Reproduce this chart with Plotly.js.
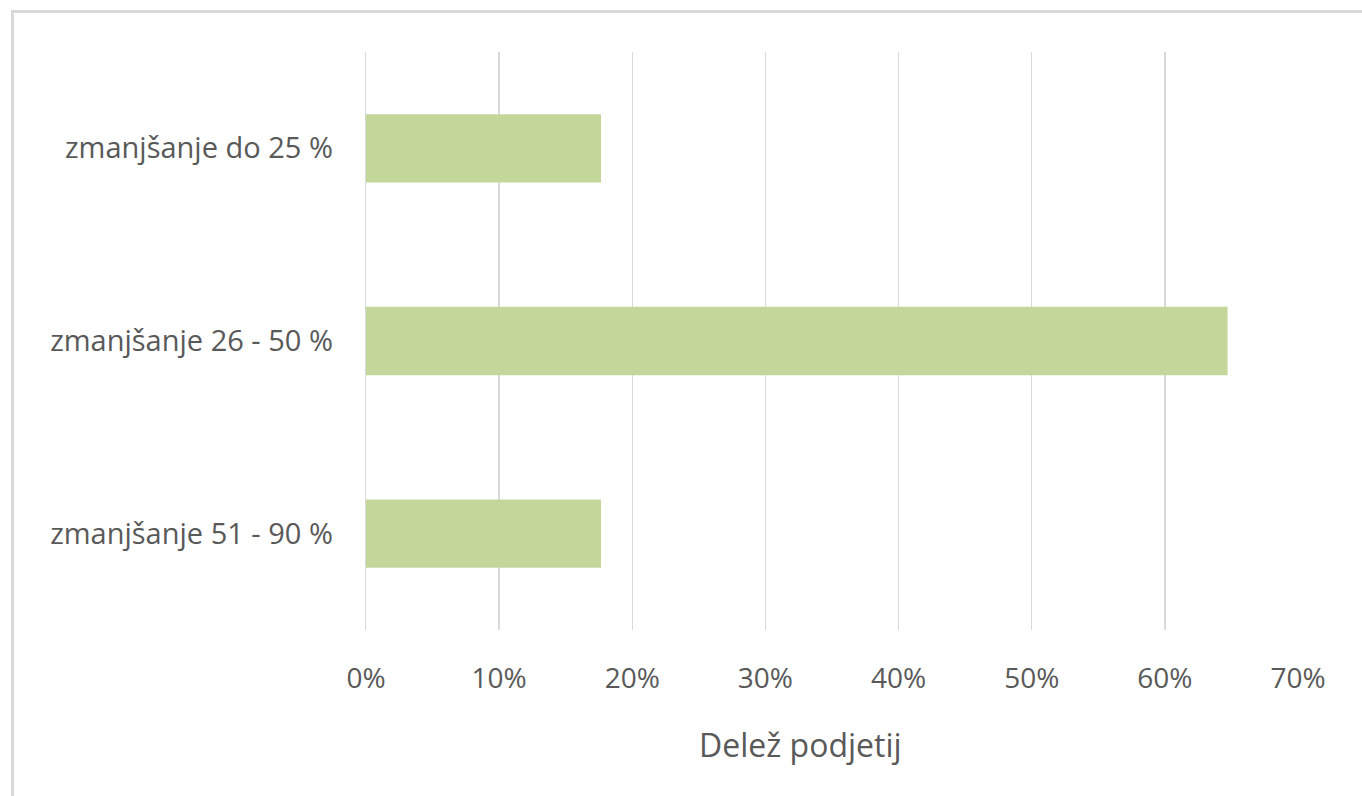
<!DOCTYPE html>
<html>
<head>
<meta charset="utf-8">
<script src="https://cdn.plot.ly/plotly-3.0.1.min.js"></script>
<style>
  html, body { margin: 0; padding: 0; background: #fff; }
  #wrap { position: relative; width: 1362px; height: 796px; }
  #chart { width: 1362px; height: 796px; }
  #frame { position: absolute; left: 11px; top: 10px; right: -5px; bottom: -5px;
           border-top: 3px solid #d9d9d9; border-left: 3px solid #d9d9d9; pointer-events: none; }
</style>
</head>
<body>
<div id="wrap">
  <div id="chart"></div>
  <div id="frame"></div>
</div>
<script>
const categories = ["zmanjšanje do 25 %", "zmanjšanje 26 - 50 %", "zmanjšanje 51 - 90 %"];
const shares = [0.1765, 0.6471, 0.1765];
const tickValues = [0, 0.1, 0.2, 0.3, 0.4, 0.5, 0.6, 0.7];
const tickLabels = ["0%", "10%", "20%", "30%", "40%", "50%", "60%", "70%"];
const axisTitle = "Delež podjetij";

const txt = "#595959";
const fontFam = "'Open Sans', 'Noto Sans', sans-serif";

const trace = {
  type: "bar",
  orientation: "h",
  y: categories,
  x: shares,
  width: 0.355,
  marker: { color: "#c4d79b", line: { width: 0 } },
  hoverinfo: "x+y"
};

const layout = {
  width: 1362,
  height: 796,
  margin: { l: 366, r: 64, t: 52, b: 166 },
  paper_bgcolor: "#ffffff",
  plot_bgcolor: "#ffffff",
  showlegend: false,
  font: { family: fontFam, color: txt, size: 28 },
  xaxis: {
    range: [0, 0.7],
    tickvals: tickValues,
    ticktext: tickLabels,
    showgrid: true,
    gridcolor: "#d9d9d9",
    gridwidth: 1.3,
    zeroline: false,
    showline: false,
    ticks: "",
    ticklabelstandoff: 29,
    tickfont: { family: fontFam, color: txt, size: 28 },
    fixedrange: true
  },
  yaxis: {
    type: "category",
    autorange: false,
    range: [2.5, -0.5],
    showgrid: false,
    zeroline: false,
    showline: true,
    linecolor: "#d9d9d9",
    linewidth: 1.3,
    ticks: "",
    ticklabelstandoff: 26,
    tickfont: { family: fontFam, color: txt, size: 29 },
    fixedrange: true
  },
  annotations: [{
    text: axisTitle,
    xref: "paper", yref: "paper",
    x: 0.4657, y: -0.198,
    xanchor: "center", yanchor: "middle",
    showarrow: false,
    font: { family: fontFam, color: txt, size: 32 }
  }]
};

Plotly.newPlot("chart", [trace], layout, { displayModeBar: false, staticPlot: true });
</script>
</body>
</html>
